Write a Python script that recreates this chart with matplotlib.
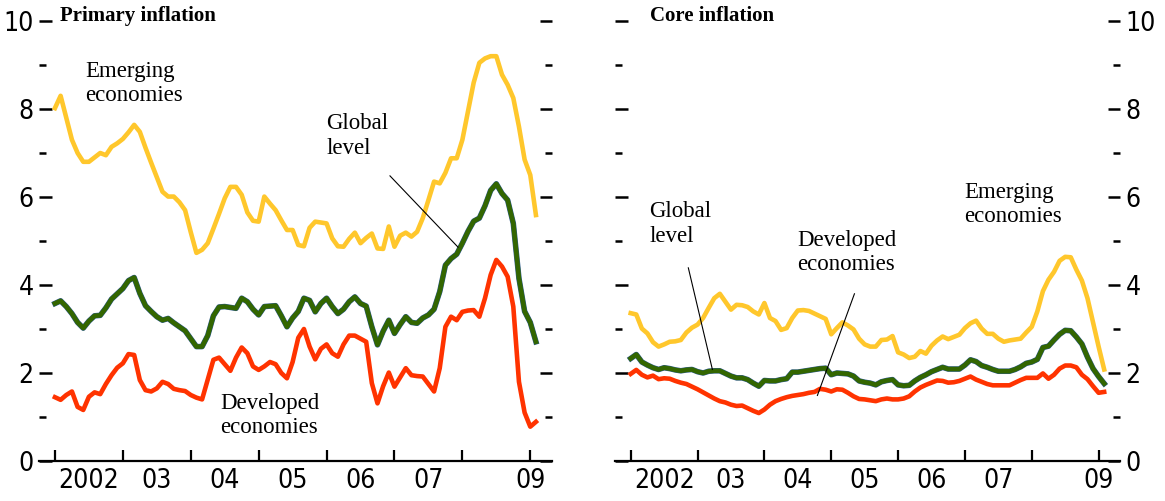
import numpy as np
import matplotlib.pyplot as plt
import matplotlib.patheffects as pe
from matplotlib import font_manager

# monthly data, Jan 2002 - Feb 2009
primary_emerging = [8.02, 8.30, 7.80, 7.30, 7.00, 6.80, 6.80, 6.90, 7.00, 6.95,
                    7.14, 7.22, 7.32, 7.47, 7.64, 7.48, 7.12, 6.78, 6.45, 6.12,
                    6.01, 6.01, 5.88, 5.70, 5.20, 4.73, 4.80, 4.95, 5.28, 5.62,
                    5.97, 6.23, 6.23, 6.05, 5.65, 5.46, 5.44, 6.01, 5.85, 5.70,
                    5.47, 5.25, 5.25, 4.91, 4.88, 5.30, 5.44, 5.42, 5.40, 5.06,
                    4.88, 4.87, 5.05, 5.19, 4.95, 5.07, 5.17, 4.83, 4.82, 5.33,
                    4.87, 5.12, 5.19, 5.10, 5.21, 5.52, 5.93, 6.35, 6.31, 6.55,
                    6.88, 6.88, 7.30, 7.95, 8.60, 9.05, 9.15, 9.20, 9.20, 8.78,
                    8.55, 8.25, 7.60, 6.85, 6.50, 5.59]
primary_global = [3.58, 3.64, 3.51, 3.35, 3.15, 3.02, 3.18, 3.30, 3.31, 3.48,
                  3.68, 3.80, 3.92, 4.10, 4.17, 3.81, 3.53, 3.40, 3.28, 3.20,
                  3.24, 3.14, 3.05, 2.96, 2.78, 2.60, 2.60, 2.85, 3.30, 3.50,
                  3.51, 3.49, 3.47, 3.70, 3.62, 3.45, 3.32, 3.51, 3.52, 3.53,
                  3.30, 3.05, 3.25, 3.40, 3.70, 3.65, 3.39, 3.58, 3.70, 3.51,
                  3.35, 3.45, 3.62, 3.73, 3.58, 3.52, 3.05, 2.64, 2.95, 3.20,
                  2.90, 3.10, 3.28, 3.15, 3.13, 3.25, 3.32, 3.45, 3.85, 4.45,
                  4.60, 4.70, 4.95, 5.22, 5.45, 5.52, 5.80, 6.15, 6.30, 6.08,
                  5.93, 5.40, 4.15, 3.40, 3.15, 2.71]
primary_developed = [1.45, 1.39, 1.50, 1.58, 1.23, 1.16, 1.46, 1.56, 1.52, 1.75,
                     1.95, 2.12, 2.22, 2.43, 2.41, 1.84, 1.61, 1.58, 1.65, 1.80,
                     1.75, 1.64, 1.61, 1.59, 1.50, 1.44, 1.40, 1.85, 2.30, 2.35,
                     2.20, 2.05, 2.35, 2.58, 2.45, 2.15, 2.07, 2.15, 2.25, 2.20,
                     2.00, 1.88, 2.25, 2.80, 3.00, 2.60, 2.31, 2.55, 2.65, 2.45,
                     2.37, 2.65, 2.85, 2.85, 2.78, 2.71, 1.77, 1.31, 1.70, 2.01,
                     1.69, 1.90, 2.11, 1.95, 1.93, 1.92, 1.75, 1.58, 2.11, 3.05,
                     3.28, 3.20, 3.39, 3.42, 3.43, 3.28, 3.70, 4.23, 4.57, 4.42,
                     4.19, 3.51, 1.80, 1.10, 0.78, 0.89]

core_emerging = [3.36, 3.33, 3.01, 2.90, 2.70, 2.60, 2.65, 2.71, 2.72, 2.75,
                 2.92, 3.03, 3.10, 3.25, 3.48, 3.70, 3.80, 3.62, 3.44, 3.55,
                 3.54, 3.50, 3.40, 3.33, 3.59, 3.25, 3.18, 2.98, 3.02, 3.25,
                 3.42, 3.43, 3.41, 3.35, 3.29, 3.23, 2.88, 3.02, 3.15, 3.08,
                 2.99, 2.78, 2.65, 2.60, 2.60, 2.75, 2.76, 2.84, 2.47, 2.42,
                 2.34, 2.37, 2.50, 2.44, 2.62, 2.74, 2.83, 2.77, 2.82, 2.87,
                 3.02, 3.13, 3.19, 3.01, 2.89, 2.89, 2.78, 2.71, 2.74, 2.76,
                 2.78, 2.92, 3.05, 3.40, 3.86, 4.12, 4.30, 4.55, 4.64, 4.63,
                 4.35, 4.10, 3.70, 3.15, 2.60, 2.08]
core_global = [2.33, 2.42, 2.25, 2.18, 2.12, 2.08, 2.12, 2.10, 2.07, 2.05,
               2.07, 2.08, 2.03, 2.00, 2.04, 2.05, 2.05, 1.99, 1.93, 1.89,
               1.89, 1.85, 1.77, 1.70, 1.83, 1.82, 1.82, 1.85, 1.87, 2.02,
               2.02, 2.04, 2.06, 2.08, 2.10, 2.11, 1.96, 2.00, 1.99, 1.98,
               1.93, 1.82, 1.79, 1.77, 1.73, 1.80, 1.83, 1.85, 1.73, 1.71,
               1.72, 1.82, 1.90, 1.96, 2.03, 2.08, 2.13, 2.09, 2.09, 2.09,
               2.18, 2.30, 2.26, 2.17, 2.13, 2.08, 2.04, 2.04, 2.04, 2.08,
               2.14, 2.22, 2.25, 2.31, 2.58, 2.61, 2.75, 2.88, 2.97, 2.96,
               2.82, 2.66, 2.36, 2.10, 1.92, 1.76]
core_developed = [1.98, 2.07, 1.96, 1.90, 1.94, 1.86, 1.88, 1.87, 1.82, 1.78,
                  1.75, 1.69, 1.63, 1.56, 1.49, 1.42, 1.36, 1.33, 1.28, 1.25,
                  1.26, 1.20, 1.14, 1.09, 1.17, 1.28, 1.36, 1.41, 1.45, 1.48,
                  1.50, 1.52, 1.55, 1.57, 1.64, 1.62, 1.58, 1.63, 1.62, 1.55,
                  1.47, 1.41, 1.40, 1.38, 1.36, 1.40, 1.42, 1.40, 1.40, 1.42,
                  1.47, 1.58, 1.67, 1.73, 1.78, 1.83, 1.82, 1.78, 1.79, 1.82,
                  1.87, 1.92, 1.85, 1.80, 1.75, 1.72, 1.72, 1.72, 1.72, 1.78,
                  1.84, 1.89, 1.89, 1.89, 1.99, 1.87, 1.96, 2.10, 2.17, 2.17,
                  2.13, 1.96, 1.86, 1.70, 1.55, 1.57]

year_ticks = [2002, 2003, 2004, 2005, 2006, 2007, 2008, 2009]
label_pos = [2002.5, 2003.5, 2004.5, 2005.5, 2006.5, 2007.5, 2009.0]
year_labels = ["2002", "03", "04", "05", "06", "07", "09"]

months = 2002 + np.arange(len(primary_emerging)) / 12.0

YELLOW = "#ffc72c"
GREEN = "#336600"
RED = "#ff3300"

# narrow sans for the tick numbers, if one is around
fonts = font_manager.fontManager.ttflist
narrow = [f for f in fonts if f.name == "Liberation Sans Narrow" and f.weight in (400, "normal")]
condensed = [f for f in fonts if f.name == "DejaVu Sans" and "Condensed" in f.fname
             and "Bold" not in f.fname and "Oblique" not in f.fname]
if narrow:
    tick_prop = font_manager.FontProperties(fname=narrow[0].fname, size=21)
elif condensed:
    tick_prop = font_manager.FontProperties(fname=condensed[0].fname, size=19)
else:
    tick_prop = font_manager.FontProperties(family="Liberation Sans", size=20)
serif = "Liberation Serif"

fig = plt.figure(figsize=(11.65, 5.01), dpi=100)
ax1 = fig.add_axes([39 / 1165, 40 / 501, 513 / 1165, 440 / 501])
ax2 = fig.add_axes([615 / 1165, 40 / 501, 505 / 1165, 440 / 501])

green_fx = [pe.Stroke(linewidth=4.0, foreground="#2d5b8c"), pe.Normal()]


def style_axis(ax, label_side):
    ax.set_xlim(2001.765, 2009.32)
    ax.set_ylim(0, 10)
    for s in ["top", "left", "right"]:
        ax.spines[s].set_visible(False)
    ax.spines["bottom"].set_linewidth(1.6)
    ax.set_yticks(range(0, 11, 2))
    ax.set_yticks(range(1, 11, 2), minor=True)
    ax.tick_params(axis="y", which="major", direction="in", length=9, width=1.8,
                   left=True, right=True, labelleft=(label_side == "left"),
                   labelright=(label_side == "right"), pad=4)
    ax.tick_params(axis="y", which="minor", direction="in", length=5, width=1.8,
                   left=True, right=True)
    ax.xaxis.remove_overlapping_locs = False
    ax.set_xticks(year_ticks)
    ax.set_xticklabels([])
    ax.set_xticks(label_pos, minor=True)
    ax.set_xticklabels(year_labels, minor=True)
    ax.tick_params(axis="x", which="major", direction="in", length=8, width=1.6)
    ax.tick_params(axis="x", which="minor", length=0, pad=5)
    for lab in ax.get_xticklabels(minor=True) + ax.get_yticklabels():
        lab.set_fontproperties(tick_prop)


# Primary inflation
ax1.plot(months, primary_emerging, color=YELLOW, lw=3.3)
ax1.plot(months, primary_global, color=GREEN, lw=3.3, path_effects=green_fx)
ax1.plot(months, primary_developed, color=RED, lw=3.3)
style_axis(ax1, "left")
ax1.text(0.041, 10.0, "Primary inflation", transform=ax1.get_yaxis_transform(),
         fontfamily=serif, fontweight="bold", fontsize=15, va="baseline")
ax1.text(2002.44, 9.1, "Emerging\neconomies", fontfamily=serif, fontsize=16.5, va="top")
ax1.text(2006.0, 7.9, "Global\nlevel", fontfamily=serif, fontsize=16.5, va="top")
ax1.plot([2006.934, 2007.936], [6.48, 4.86], color="black", lw=0.8)
ax1.text(2004.43, 1.55, "Developed\neconomies", fontfamily=serif, fontsize=16.5, va="top")

# Core inflation
ax2.plot(months, core_emerging, color=YELLOW, lw=3.3)
ax2.plot(months, core_global, color=GREEN, lw=3.3, path_effects=green_fx)
ax2.plot(months, core_developed, color=RED, lw=3.3)
style_axis(ax2, "right")
ax2.text(0.069, 10.0, "Core inflation", transform=ax2.get_yaxis_transform(),
         fontfamily=serif, fontweight="bold", fontsize=15, va="baseline")
ax2.text(2002.28, 5.9, "Global\nlevel", fontfamily=serif, fontsize=16.5, va="top")
ax2.plot([2002.862, 2003.222], [4.39, 2.08], color="black", lw=0.8)
ax2.text(2004.49, 5.25, "Developed\neconomies", fontfamily=serif, fontsize=16.5, va="top")
ax2.plot([2005.347, 2004.793], [3.80, 1.49], color="black", lw=0.8)
ax2.text(2006.99, 6.35, "Emerging\neconomies", fontfamily=serif, fontsize=16.5, va="top")

fig.savefig("out.png", dpi=100)
